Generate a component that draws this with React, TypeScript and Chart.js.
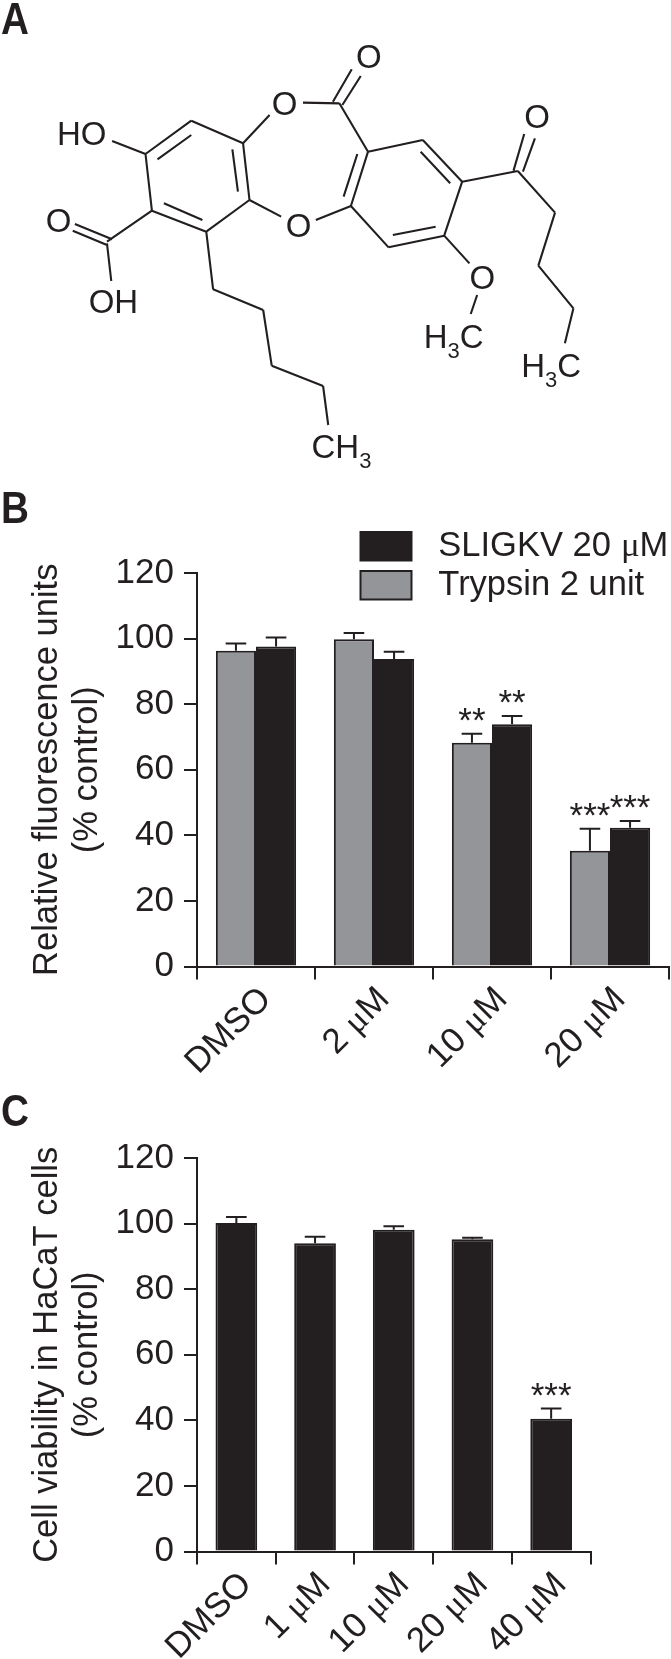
import React, { useEffect, useRef } from "react";
import { Chart, registerables } from "chart.js";

Chart.register(...registerables);

const INK = "#231f20";
const GRAY = "#939598";
const FONT = '"Liberation Sans", Arial, sans-serif';
const MU_FONT = '"MuSerif", "Liberation Sans", Arial, sans-serif';

// ---- Panel B data ----
const concentrationsB = ["DMSO", "2 μM", "10 μM", "20 μM"];
const trypsinValues = [96.3, 99.8, 68.2, 35.3];
const trypsinErrorTop = [98.5, 101.7, 71, 42];
const trypsinStars = ["", "", "**", "***"];
const sligkvValues = [97.6, 93.8, 73.9, 42.3];
const sligkvErrorTop = [100.3, 96, 76.4, 44.4];
const sligkvStars = ["", "", "**", "***"];

// ---- Panel C data ----
const concentrationsC = ["DMSO", "1 μM", "10 μM", "20 μM", "40 μM"];
const viabilityValues = [100.2, 94, 98.1, 95.2, 40.5];
const viabilityErrorTop = [102, 96, 99.2, 95.7, 43.6];
const viabilityStars = ["", "", "", "", "***"];

const yTicks = [0, 20, 40, 60, 80, 100, 120];

// ---- Panel A data: molecule drawn on a hidden-axis scatter chart ----
const bonds: number[][] = [
  [340, 462, 447, 362], [447, 362, 568, 430], [568, 430, 583, 600], [583, 600, 482, 695], [482, 695, 355, 632], [355, 632, 340, 462],
  [368, 478, 447, 405], [543, 448, 556, 575], [383, 610, 473, 660],
  [262, 423, 340, 462], [568, 430, 630, 345], [708, 308, 793, 310],
  [778, 305, 822, 208], [800, 315, 843, 228], [793, 310, 860, 455],
  [860, 455, 988, 420], [988, 420, 1080, 545], [1080, 545, 1038, 707], [1038, 707, 908, 742], [908, 742, 820, 618], [820, 618, 860, 455],
  [983, 455, 1052, 550], [918, 705, 1018, 680], [835, 462, 803, 590],
  [583, 600, 657, 650], [738, 660, 820, 618],
  [1080, 545, 1210, 513], [1200, 512, 1225, 402], [1222, 515, 1250, 415],
  [1210, 513, 1297, 638], [1297, 638, 1258, 797], [1258, 797, 1340, 925], [1340, 925, 1320, 1030],
  [1038, 707, 1097, 790], [1115, 885, 1100, 942],
  [355, 632, 250, 725], [175, 672, 262, 718], [170, 692, 250, 735], [250, 730, 260, 843],
  [482, 695, 498, 868], [498, 868, 615, 930], [615, 930, 635, 1097], [635, 1097, 755, 1158], [755, 1158, 767, 1275],
];
const atomTexts = ["HO", "O", "O", "O", "O", "OH", "O", "O"];
const atomX = [191, 665, 862, 1255, 137, 265, 698, 1127];
const atomY = [435, 345, 205, 385, 695, 938, 710, 868];
const groupTexts = [["H", "3", "C"], ["H", "3", "C"], ["CH", "3", ""]];
const groupX = [1060, 1288, 798];
const groupY = [1043, 1132, 1375];

const errorBarPlugin = {
  id: "errorBars",
  afterDatasetsDraw(chart: any) {
    const { ctx } = chart;
    const y = chart.scales.y;
    chart.data.datasets.forEach((ds: any, di: number) => {
      const meta = chart.getDatasetMeta(di);
      meta.data.forEach((bar: any, i: number) => {
        const top = y.getPixelForValue(ds.errorTop[i]);
        const base = y.getPixelForValue(ds.data[i]);
        ctx.save();
        ctx.strokeStyle = INK;
        ctx.lineWidth = 2;
        ctx.beginPath();
        ctx.moveTo(bar.x, base);
        ctx.lineTo(bar.x, top);
        ctx.moveTo(bar.x - 10.3, top);
        ctx.lineTo(bar.x + 10.3, top);
        ctx.stroke();
        if (ds.stars[i]) {
          ctx.fillStyle = INK;
          ctx.font = `35px ${FONT}`;
          ctx.textAlign = "center";
          ctx.textBaseline = "alphabetic";
          ctx.fillText(ds.stars[i], bar.x, top - 2);
        }
        ctx.restore();
      });
    });
  },
};

function barOptions(opts: {
  title: string[];
  areaTop: number;
  areaBottom: number;
  height: number;
  right: number;
  labelOffset: number;
  legend: boolean;
  barGroup: number;
}) {
  const tickFont = { family: MU_FONT, size: 35, lineHeight: 1 };
  return {
    responsive: false,
    maintainAspectRatio: false,
    animation: false as const,
    layout: { padding: { left: 0, top: opts.areaTop, right: 671 - opts.right, bottom: 0 } },
    datasets: { bar: { categoryPercentage: opts.barGroup, barPercentage: 1 } },
    plugins: {
      tooltip: { enabled: false },
      title: { display: false },
      legend: opts.legend
        ? {
            display: true,
            position: "chartArea" as const,
            align: "start" as const,
            reverse: true,
            labels: {
              boxWidth: 51,
              boxHeight: 28.5,
              padding: 4.5,
              color: INK,
              font: { family: MU_FONT, size: 34.5, lineHeight: 1 },
              generateLabels(chart: any) {
                return Chart.defaults.plugins.legend.labels
                  .generateLabels(chart)
                  .map((item: any) => ({ ...item, text: " " + item.text }));
              },
            },
          }
        : { display: false },
    },
    scales: {
      x: {
        offset: true,
        afterFit(s: any) {
          s.height = opts.height - opts.areaBottom;
          s.paddingLeft = 0;
          s.paddingRight = 0;
        },
        grid: { drawOnChartArea: false, drawTicks: true, tickLength: 13, color: INK, lineWidth: 2, offset: true },
        border: { display: true, color: INK, width: 2 },
        ticks: {
          color: INK,
          font: tickFont,
          minRotation: 45,
          maxRotation: 45,
          autoSkip: false,
          padding: 2,
          labelOffset: opts.labelOffset,
        },
      },
      y: {
        min: 0,
        max: 120,
        afterFit(s: any) {
          s.width = 197;
          s.paddingTop = 0;
          s.paddingBottom = 0;
        },
        afterBuildTicks(s: any) {
          s.ticks = yTicks.map((value) => ({ value }));
        },
        grid: { drawOnChartArea: false, drawTicks: true, tickLength: 13, color: INK, lineWidth: 2 },
        border: { display: true, color: INK, width: 2 },
        ticks: { color: INK, font: tickFont, padding: 10 },
        title: {
          display: true,
          text: opts.title,
          color: INK,
          font: { family: FONT, size: 34.5, lineHeight: 1.177 },
          padding: { top: 26.7, bottom: 0 },
        },
      },
    },
  };
}

function moleculeConfig(): any {
  const points: any[] = [];
  bonds.forEach((b) => {
    points.push({ x: b[0], y: b[1] }, { x: b[2], y: b[3] }, { x: NaN, y: NaN });
  });
  const labelsPlugin = {
    id: "atomLabels",
    afterDatasetsDraw(chart: any) {
      const { ctx, scales } = chart;
      ctx.save();
      ctx.fillStyle = INK;
      ctx.textBaseline = "alphabetic";
      atomTexts.forEach((t, i) => {
        ctx.font = `33px ${FONT}`;
        ctx.textAlign = "center";
        ctx.fillText(t, scales.x.getPixelForValue(atomX[i]), scales.y.getPixelForValue(atomY[i]));
      });
      groupTexts.forEach((parts, i) => {
        const px = scales.x.getPixelForValue(groupX[i]);
        const py = scales.y.getPixelForValue(groupY[i]);
        ctx.textAlign = "left";
        const fonts = [`33px ${FONT}`, `22px ${FONT}`, `33px ${FONT}`];
        const widths = parts.map((p, k) => {
          ctx.font = fonts[k];
          return ctx.measureText(p).width;
        });
        let cursor = px - widths.reduce((a, b) => a + b, 0) / 2;
        parts.forEach((p, k) => {
          ctx.font = fonts[k];
          ctx.fillText(p, cursor, k === 1 ? py + 10 : py);
          cursor += widths[k];
        });
      });
      ctx.restore();
    },
  };
  return {
    type: "scatter",
    data: {
      datasets: [
        {
          data: points,
          showLine: true,
          spanGaps: false,
          pointRadius: 0,
          borderColor: INK,
          borderWidth: 2.1,
        },
      ],
    },
    options: {
      responsive: false,
      maintainAspectRatio: false,
      animation: false,
      layout: { padding: 0 },
      plugins: { legend: { display: false }, tooltip: { enabled: false } },
      scales: {
        x: { type: "linear", display: false, min: 0, max: 1568 },
        y: { type: "linear", display: false, min: 0, max: 1440, reverse: true },
      },
    },
    plugins: [labelsPlugin],
  };
}

const legendPlacer = {
  id: "legendPlacer",
  beforeDraw(chart: any) {
    const l = chart.legend;
    if (!l || !l.options.display) return;
    l.left = 356;
    l.right = l.left + 315;
    l.top = 44.5;
    l.bottom = l.top + 100;
  },
};

const panelLetterStyle = (top: number): React.CSSProperties => ({
  position: "absolute",
  left: 1,
  top,
  font: `bold 44px/44px ${FONT}`,
  color: INK,
  transform: "scaleX(0.88)",
  transformOrigin: "0 0",
  margin: 0,
});

const placed = (top: number): React.CSSProperties => ({
  position: "absolute",
  left: 0,
  top,
  display: "block",
});

export default function App() {
  const molRef = useRef<HTMLCanvasElement>(null);
  const bRef = useRef<HTMLCanvasElement>(null);
  const cRef = useRef<HTMLCanvasElement>(null);

  useEffect(() => {
    let alive = true;
    const mol = new Chart(molRef.current!, moleculeConfig());
    const b = new Chart(bRef.current!, {
      type: "bar",
      data: {
        labels: concentrationsB,
        datasets: [
          {
            label: "Trypsin 2 unit",
            data: trypsinValues,
            backgroundColor: GRAY,
            borderColor: INK,
            borderWidth: 2,
            errorTop: trypsinErrorTop,
            stars: trypsinStars,
          } as any,
          {
            label: "SLIGKV 20 μM",
            data: sligkvValues,
            backgroundColor: INK,
            borderColor: INK,
            borderWidth: 2,
            errorTop: sligkvErrorTop,
            stars: sligkvStars,
          } as any,
        ],
      },
      options: barOptions({
        title: ["Relative fluorescence units", "(% control)"],
        areaTop: 93,
        areaBottom: 486.5,
        height: 605,
        right: 669,
        labelOffset: 10,
        legend: true,
        barGroup: 0.68,
      }) as any,
      plugins: [errorBarPlugin, legendPlacer],
    });
    const c = new Chart(cRef.current!, {
      type: "bar",
      data: {
        labels: concentrationsC,
        datasets: [
          {
            label: "Cell viability",
            data: viabilityValues,
            backgroundColor: INK,
            borderColor: INK,
            borderWidth: 2,
            errorTop: viabilityErrorTop,
            stars: viabilityStars,
          } as any,
        ],
      },
      options: barOptions({
        title: ["Cell viability in HaCaT cells", "(% control)"],
        areaTop: 73,
        areaBottom: 466.6,
        height: 574,
        right: 590.5,
        labelOffset: 10,
        legend: false,
        barGroup: 0.53,
      }) as any,
      plugins: [errorBarPlugin],
    });
    // The serif μ comes from a unicode-range face: redraw once it is ready.
    document.fonts.load('35px "MuSerif"', "μ").then(() => {
      if (alive) {
        b.update("none");
        c.update("none");
      }
    });
    return () => {
      alive = false;
      mol.destroy();
      b.destroy();
      c.destroy();
    };
  }, []);

  return (
    <div style={{ position: "absolute", left: 0, top: 0, width: 671, height: 1659, overflow: "hidden", background: "#fff" }}>
      <style>{`@font-face { font-family: "MuSerif"; src: local("Liberation Serif"); unicode-range: U+03BC, U+00B5; }`}</style>
      <canvas ref={molRef} width={671} height={480} style={placed(0)} />
      <canvas ref={bRef} width={671} height={605} style={placed(480)} />
      <canvas ref={cRef} width={671} height={574} style={placed(1085)} />
      <div style={panelLetterStyle(-3)}>A</div>
      <div style={panelLetterStyle(486)}>B</div>
      <div style={panelLetterStyle(1089)}>C</div>
    </div>
  );
}
